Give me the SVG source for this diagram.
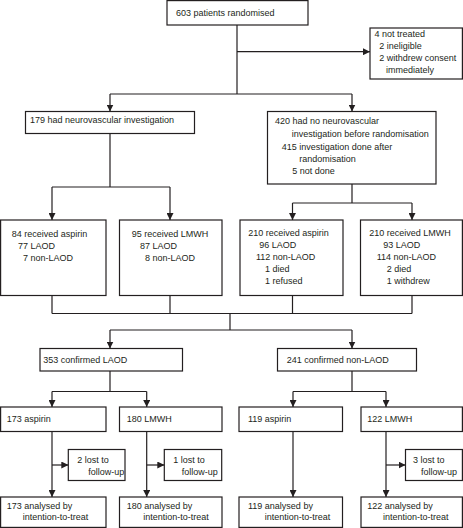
<svg xmlns="http://www.w3.org/2000/svg" width="463" height="528" viewBox="0 0 463 528">
<style>
  .box { fill: #ffffff; stroke: #231f20; stroke-width: 1.2; }
  .ln { fill: none; stroke: #231f20; stroke-width: 1.2; }
  .arr { fill: none; stroke: #231f20; stroke-width: 1.2; marker-end: url(#ah); }
  text { font-family: "Liberation Sans", Arial, sans-serif; font-size: 9px; fill: #231f20; }
</style>
<defs>
  <marker id="ah" viewBox="0 0 10 10" refX="10" refY="5" markerWidth="7" markerHeight="7" markerUnits="userSpaceOnUse" orient="auto">
    <path d="M0,0 L10,5 L0,10 z" fill="#231f20"/>
  </marker>
</defs>
<rect width="463" height="528" fill="#ffffff"/>

<g id="connectors">
  <path class="ln" d="M237,25 V94"/>
  <path class="arr" d="M237,51.7 H370"/>
  <path class="ln" d="M110,94 H352"/>
  <path class="arr" d="M110,94 V111.5"/>
  <path class="arr" d="M352,94 V111.5"/>
  <path class="ln" d="M110,133.5 V187 M52,187 H170"/>
  <path class="arr" d="M52,187 V220"/>
  <path class="arr" d="M170,187 V220"/>
  <path class="ln" d="M352,184 V203 M292.5,203 H412"/>
  <path class="arr" d="M292.5,203 V220"/>
  <path class="arr" d="M412,203 V220"/>
  <path class="ln" d="M52,295.5 V313.5 M170,295.5 V313.5 M292.5,295.5 V313.5 M412,295.5 V313.5 M52,313.5 H412 M230,313.5 V330 M110,330 H352"/>
  <path class="arr" d="M110,330 V348.5"/>
  <path class="arr" d="M352,330 V348.5"/>
  <path class="ln" d="M110,371 V391.5 M52,391.5 H146.7 M352,371 V391.5 M293,391.5 H386"/>
  <path class="arr" d="M52,391.5 V407"/>
  <path class="arr" d="M146.7,391.5 V407"/>
  <path class="arr" d="M293,391.5 V407"/>
  <path class="arr" d="M386,391.5 V407"/>
  <path class="arr" d="M52,431.5 V497"/>
  <path class="arr" d="M146.7,431.5 V497"/>
  <path class="arr" d="M293,431.5 V497"/>
  <path class="arr" d="M386,431.5 V497"/>
  <path class="arr" d="M52,465 H68.3"/>
  <path class="arr" d="M146.7,465 H164.3"/>
  <path class="arr" d="M386,465 H405.5"/>
</g>

<g id="n-randomised">
  <rect class="box" x="167" y="0.6" width="141" height="24.4"/>
  <text x="176" y="16">603 patients randomised</text>
</g>
<g id="n-not-treated">
  <rect class="box" x="370" y="28" width="92.4" height="51"/>
  <text x="374.5" y="37">4 not treated</text>
  <text x="379.3" y="49">2 ineligible</text>
  <text x="379.3" y="61">2 withdrew consent</text>
  <text x="386" y="72.5">immediately</text>
</g>
<g id="n-179">
  <rect class="box" x="25.5" y="111.5" width="169" height="22"/>
  <text x="30" y="123.3">179 had neurovascular investigation</text>
</g>
<g id="n-420">
  <rect class="box" x="267.5" y="111.5" width="168.5" height="72.5"/>
  <text x="275" y="124.3">420 had no neurovascular</text>
  <text x="291.7" y="137.3">investigation before randomisation</text>
  <text x="281.7" y="150">415 investigation done after</text>
  <text x="299.3" y="162">randomisation</text>
  <text x="292.3" y="174.3">5 not done</text>
</g>
<g id="n-84-aspirin">
  <rect class="box" x="0.6" y="220" width="105.4" height="75.5"/>
  <text x="11.7" y="236.5">84 received aspirin</text>
  <text x="18" y="248.7">77 LAOD</text>
  <text x="23" y="260.8">7 non-LAOD</text>
</g>
<g id="n-95-lmwh">
  <rect class="box" x="119.5" y="220" width="102.5" height="75.5"/>
  <text x="131.7" y="236.5">95 received LMWH</text>
  <text x="140" y="248.7">87 LAOD</text>
  <text x="145" y="260.8">8 non-LAOD</text>
</g>
<g id="n-210-aspirin">
  <rect class="box" x="240" y="220" width="103" height="75.5"/>
  <text x="248.3" y="236">210 received aspirin</text>
  <text x="259.3" y="248">96 LAOD</text>
  <text x="256" y="260.2">112 non-LAOD</text>
  <text x="265" y="272.2">1 died</text>
  <text x="265" y="284.4">1 refused</text>
</g>
<g id="n-210-lmwh">
  <rect class="box" x="360.5" y="220" width="101.9" height="75.5"/>
  <text x="369.3" y="236">210 received LMWH</text>
  <text x="383.3" y="248">93 LAOD</text>
  <text x="376.7" y="260.2">114 non-LAOD</text>
  <text x="386.7" y="272.2">2 died</text>
  <text x="386.7" y="284.4">1 withdrew</text>
</g>
<g id="n-353">
  <rect class="box" x="40" y="348.5" width="142.5" height="22.5"/>
  <text x="43.3" y="363.3">353 confirmed LAOD</text>
</g>
<g id="n-241">
  <rect class="box" x="277.5" y="348.5" width="139" height="22.5"/>
  <text x="286.7" y="363.3">241 confirmed non-LAOD</text>
</g>
<g id="n-173-aspirin">
  <rect class="box" x="0.6" y="407" width="105.4" height="24.5"/>
  <text x="6.7" y="422">173 aspirin</text>
</g>
<g id="n-180-lmwh">
  <rect class="box" x="119.5" y="407" width="102.5" height="24.5"/>
  <text x="126.7" y="422">180 LMWH</text>
</g>
<g id="n-119-aspirin">
  <rect class="box" x="239" y="407" width="103.5" height="24.5"/>
  <text x="248" y="422">119 aspirin</text>
</g>
<g id="n-122-lmwh">
  <rect class="box" x="361" y="407" width="101.4" height="24.5"/>
  <text x="367.3" y="422">122 LMWH</text>
</g>
<g id="n-lost-2">
  <rect class="box" x="68.3" y="449.5" width="56.7" height="31"/>
  <text x="77.3" y="462.5">2 lost to</text>
  <text x="88.3" y="475">follow-up</text>
</g>
<g id="n-lost-1">
  <rect class="box" x="164.3" y="449.5" width="57.4" height="31"/>
  <text x="173.3" y="462.5">1 lost to</text>
  <text x="181.7" y="475">follow-up</text>
</g>
<g id="n-lost-3">
  <rect class="box" x="405.5" y="449.5" width="56.9" height="31"/>
  <text x="413" y="462.5">3 lost to</text>
  <text x="421" y="475">follow-up</text>
</g>
<g id="n-173-itt">
  <rect class="box" x="0.6" y="497" width="105.4" height="30.4"/>
  <text x="6.7" y="508.5">173 analysed by</text>
  <text x="22.7" y="520.3">intention-to-treat</text>
</g>
<g id="n-180-itt">
  <rect class="box" x="119.5" y="497" width="102.5" height="30.4"/>
  <text x="126.7" y="508.5">180 analysed by</text>
  <text x="143.3" y="520.3">intention-to-treat</text>
</g>
<g id="n-119-itt">
  <rect class="box" x="239" y="497" width="103.5" height="30.4"/>
  <text x="248" y="508.5">119 analysed by</text>
  <text x="264.7" y="520.3">intention-to-treat</text>
</g>
<g id="n-122-itt">
  <rect class="box" x="361" y="497" width="101.4" height="30.4"/>
  <text x="367.3" y="508.5">122 analysed by</text>
  <text x="383" y="520.3">intention-to-treat</text>
</g>
</svg>
